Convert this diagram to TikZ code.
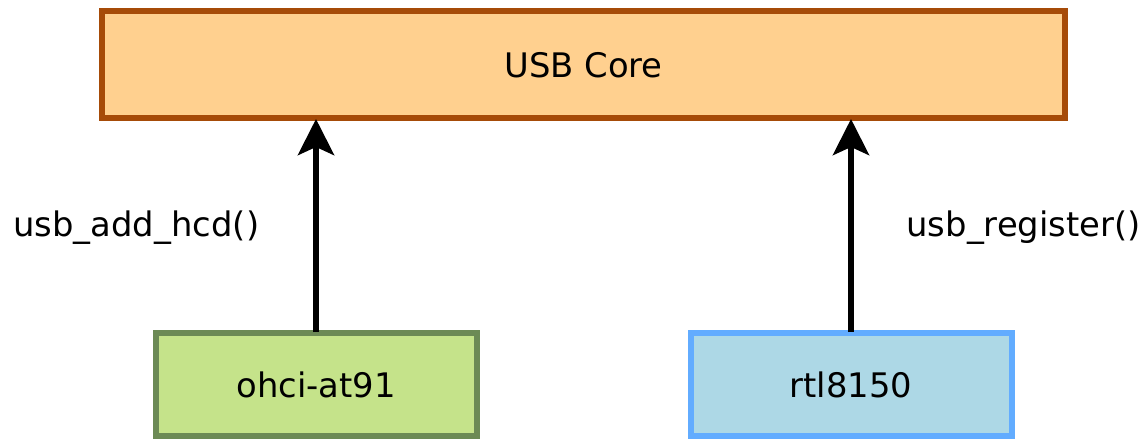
\documentclass[tikz,border=0pt]{standalone}
\usepackage{fontspec}
\setmainfont{DejaVu Sans}
\usetikzlibrary{arrows.meta}
\definecolor{corefill}{HTML}{FFD08F}
\definecolor{coredraw}{HTML}{A64B08}
\definecolor{greenfill}{HTML}{C5E38A}
\definecolor{greendraw}{HTML}{6C8A55}
\definecolor{bluefill}{HTML}{ADD8E6}
\definecolor{bluedraw}{HTML}{62ACFF}
\tikzset{
  boxstyle/.style={draw, line width=3pt, inner sep=0pt},
  lbl/.style={font=\fontsize{16.9}{20}\selectfont, inner sep=0pt},
  arr/.style={line width=3pt, -{Stealth[length=18pt, width=18pt, inset=4pt]}}
}
\begin{document}
\begin{tikzpicture}[x=0.5pt, y=-0.5pt]
\useasboundingbox (0,0) rectangle (1142,439);
\begin{scope}
\clip (0,0) rectangle (1142,439);
\draw[boxstyle, draw=coredraw, fill=corefill] (102,11) rectangle (1065,118);
\draw[boxstyle, draw=greendraw, fill=greenfill] (155.5,332.5) rectangle (476.5,435.5);
\draw[boxstyle, draw=bluedraw, fill=bluefill] (691,333) rectangle (1012,435.5);
\end{scope}
\node[lbl] (core) at (583.5,65) {USB Core};
\node[lbl] (ohci) at (316,385) {ohci-at91};
\node[lbl] (rtl) at (851,385) {rtl8150};
\coordinate (a1s) at (316,332);
\coordinate (a1e) at (316,119);
\coordinate (a2s) at (851,332);
\coordinate (a2e) at (851,119);
\draw[arr] (a1s) -- (a1e);
\draw[arr] (a2s) -- (a2e);
\node[lbl, anchor=west] (l1) at (13,228) {usb\_add\_hcd()};
\node[lbl, anchor=east] (l2) at (1141,228) {usb\_register()};
\end{tikzpicture}
\end{document}
